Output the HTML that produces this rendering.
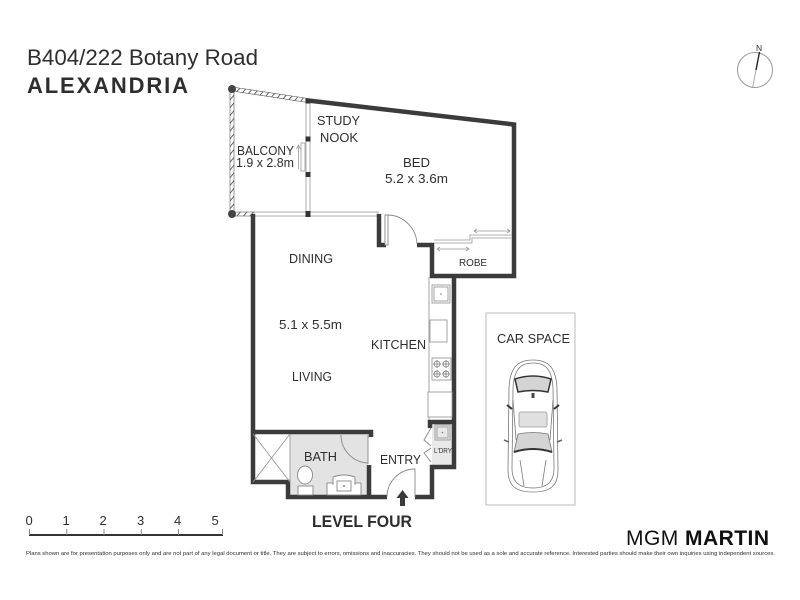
<!DOCTYPE html>
<html><head><meta charset="utf-8"><style>
html,body{margin:0;padding:0;background:#fff;}
svg{display:block;}
text{font-family:"Liberation Sans",Arial,sans-serif;fill:#2e2e2e;}
</style></head><body>
<svg width="800" height="600" viewBox="0 0 800 600" xmlns="http://www.w3.org/2000/svg">
<defs>
<pattern id="h" patternUnits="userSpaceOnUse" width="5" height="5" patternTransform="rotate(40)">
<rect width="5" height="5" fill="#fff"/>
<line x1="0" y1="0" x2="0" y2="5" stroke="#333" stroke-width="1.5"/>
</pattern>
</defs>

<!-- Title -->
<text x="27" y="65" font-size="22.5" textLength="231" lengthAdjust="spacingAndGlyphs">B404/222 Botany Road</text>
<text x="27" y="93" font-size="22" font-weight="bold" textLength="161" lengthAdjust="spacing">ALEXANDRIA</text>

<!-- Compass -->
<circle cx="755" cy="70" r="17.5" fill="none" stroke="#999" stroke-width="1"/>
<line x1="756" y1="70" x2="759.5" y2="52" stroke="#222" stroke-width="1.4"/>
<line x1="756" y1="70" x2="752.5" y2="88" stroke="#aaa" stroke-width="1"/>
<text x="756" y="51" font-size="8.5">N</text>

<!-- grey floors -->
<rect x="290" y="434" width="78" height="63" fill="#e3e3e3"/>
<rect x="432" y="424" width="21" height="43" fill="#e9e9e9"/>

<!-- balcony hatch -->
<polygon points="232,87 308,98.5 308,102.5 232,91" fill="url(#h)" stroke="#555" stroke-width="0.6"/>
<rect x="230" y="89" width="4" height="125" fill="url(#h)" stroke="#555" stroke-width="0.6"/>
<rect x="232" y="212" width="22" height="4" fill="url(#h)" stroke="#555" stroke-width="0.6"/>
<circle cx="232" cy="89" r="4" fill="#444"/>
<circle cx="232" cy="214" r="4" fill="#444"/>

<!-- glazing lines -->
<rect x="254" y="212" width="124" height="4" fill="#fff" stroke="#999" stroke-width="0.8"/>
<rect x="306" y="101" width="4" height="113" fill="#fff" stroke="#999" stroke-width="0.8"/>
<rect x="301" y="143" width="4" height="28" fill="#fff" stroke="#999" stroke-width="0.8"/>
<line x1="298.5" y1="169" x2="298.5" y2="146" stroke="#999" stroke-width="0.8"/>
<polyline points="296.5,149 298.5,145 300.5,149" fill="none" stroke="#999" stroke-width="0.8"/>
<rect x="305.5" y="98.5" width="5" height="5" fill="#333"/>
<rect x="305.5" y="136.5" width="5" height="5" fill="#333"/>
<rect x="305.5" y="172" width="5" height="5" fill="#333"/>
<rect x="305.5" y="211" width="5" height="6" fill="#333"/>

<!-- Walls -->
<g fill="none" stroke="#3b3b3b" stroke-width="4.5" stroke-linejoin="miter">
<polyline points="308,100.5 514,124.5 514,276 432,276 432,245 417,245"/>
<polyline points="379,214 379,245 386,245"/>
<polyline points="253,214 253,482 288,482 288,497 387,497"/>
<polyline points="415,497 432,497 432,467 454,467 454,276"/>
<polyline points="253,432 371,432 371,437"/>
<line x1="369" y1="465" x2="369" y2="497"/>
<polyline points="430,428 430,422 454,422"/>
</g>

<!-- Doors -->
<g fill="none" stroke="#888" stroke-width="0.9">
<rect x="385" y="215" width="3" height="30" fill="#fff"/>
<path d="M388,215 A30,30 0 0 1 417,244"/>
<path d="M341,435 A28,28 0 0 0 368,463"/>
<line x1="368" y1="435" x2="368" y2="464"/>
<path d="M387,497 A28,28 0 0 1 415,469"/>
<line x1="415" y1="469" x2="415" y2="497"/>
<polyline points="431,428 424,440 431,446"/>
<polyline points="431,448 424,453 431,462"/>
</g>

<!-- Robe -->
<g fill="none" stroke="#999" stroke-width="0.8">
<polyline points="434,240 470,240 470,235 512,235"/>
<polyline points="434,243 472,243 472,238 512,238"/>
<line x1="474" y1="231" x2="510" y2="231"/>
<polyline points="477,229 474,231 477,233"/>
<polyline points="507,229 510,231 507,233"/>
<line x1="437" y1="249" x2="469" y2="249"/>
<polyline points="440,247 437,249 440,251"/>
<polyline points="466,247 469,249 466,251"/>
</g>

<!-- Kitchen -->
<g fill="none" stroke="#999" stroke-width="0.9">
<line x1="429" y1="277" x2="429" y2="420"/>
<rect x="432" y="285" width="18" height="18"/>
<rect x="434" y="287" width="14" height="14"/>
<rect x="430" y="320" width="17" height="22" fill="#fff"/>
<rect x="432" y="358" width="19" height="22"/>
<rect x="428" y="392" width="24" height="25" fill="#fff"/>
<rect x="435" y="425" width="15" height="15"/>
<rect x="437" y="427" width="11" height="11"/>
<line x1="290" y1="434" x2="290" y2="482"/>
<line x1="253" y1="434" x2="290" y2="482"/>
<line x1="290" y1="434" x2="253" y2="482"/>
</g>
<g fill="none" stroke="#777" stroke-width="0.7">
<circle cx="437" cy="364" r="3"/><circle cx="446" cy="364" r="3"/>
<circle cx="437" cy="374" r="3"/><circle cx="446" cy="374" r="3"/>
<path d="M433,364h8M437,360v8M442,364h8M446,360v8M433,374h8M437,370v8M442,374h8M446,370v8"/>
</g>
<circle cx="441" cy="294" r="0.8" fill="#777"/>
<circle cx="442.5" cy="432.5" r="0.8" fill="#777"/>

<!-- Bath fixtures -->
<g fill="#fff" stroke="#888" stroke-width="0.9">
<ellipse cx="305" cy="475" rx="7.5" ry="9"/>
<rect x="298" y="486" width="15" height="9"/>
<rect x="327" y="483" width="34" height="12"/>
<path d="M333,485 L333,477 Q344,473 355,477 L355,485"/>
<rect x="337" y="481" width="14" height="10"/>
</g>
<circle cx="344" cy="486" r="0.9" fill="#666"/>

<!-- Entry arrow -->
<polygon points="402.5,490 396.5,498 400,498 400,506 405,506 405,498 408.5,498" fill="#3b3b3b"/>

<!-- Room labels -->
<g font-size="13">
<text x="317" y="125" textLength="43" lengthAdjust="spacingAndGlyphs">STUDY</text>
<text x="320" y="142" textLength="38" lengthAdjust="spacingAndGlyphs">NOOK</text>
<text x="237" y="155" font-size="12.5" textLength="57" lengthAdjust="spacingAndGlyphs">BALCONY</text>
<text x="236" y="167" font-size="12.5" textLength="58" lengthAdjust="spacingAndGlyphs">1.9 x 2.8m</text>
<text x="403" y="167" textLength="27" lengthAdjust="spacingAndGlyphs">BED</text>
<text x="385" y="183" textLength="63" lengthAdjust="spacingAndGlyphs">5.2 x 3.6m</text>
<text x="289" y="263" textLength="44" lengthAdjust="spacingAndGlyphs">DINING</text>
<text x="279" y="329" textLength="63" lengthAdjust="spacingAndGlyphs">5.1 x 5.5m</text>
<text x="371" y="349" textLength="55" lengthAdjust="spacingAndGlyphs">KITCHEN</text>
<text x="292" y="381" textLength="40" lengthAdjust="spacingAndGlyphs">LIVING</text>
<text x="304" y="461" textLength="33" lengthAdjust="spacingAndGlyphs">BATH</text>
<text x="380" y="464" textLength="41" lengthAdjust="spacingAndGlyphs">ENTRY</text>
<text x="459" y="266" font-size="10.5" textLength="28" lengthAdjust="spacingAndGlyphs">ROBE</text>
<text x="434" y="453" font-size="7" textLength="18" lengthAdjust="spacingAndGlyphs">L'DRY</text>
</g>

<!-- Car space -->
<rect x="486" y="313" width="89" height="192" fill="none" stroke="#bbb" stroke-width="1"/>
<text x="497" y="343" font-size="13" textLength="73" lengthAdjust="spacingAndGlyphs">CAR SPACE</text>
<g fill="none" stroke="#777" stroke-width="0.8">
<path d="M533,360 C549,360 556,368 557,388 L558,470 C558,486 550,492 533,492 C516,492 508,486 508,470 L509,388 C510,368 517,360 533,360 Z" fill="#fff"/>
<path d="M533,363 C546,363 552,370 553,388 L554,468 C554,482 547,488 533,488 C519,488 512,482 512,468 L513,388 C514,370 520,363 533,363 Z"/>
<path d="M513,400 L516,440 M553,400 L550,440"/>
<path d="M520,460 L524,486 M546,460 L542,486"/>
</g>
<path d="M515,379 Q533,373 551,379 L548,392 Q533,389 518,392 Z" fill="#d4d4d4" stroke="#333" stroke-width="1.5"/>
<rect x="519" y="412" width="28" height="15" rx="2" fill="#e0e0e0" stroke="#999" stroke-width="0.8"/>
<path d="M518,434 Q533,431 548,434 L552,452 Q533,446 514,452 Z" fill="#d4d4d4" stroke="#777" stroke-width="0.8"/>
<path d="M514,452 Q533,446 552,452" fill="none" stroke="#333" stroke-width="2"/>
<rect x="531.5" y="393" width="3" height="5" fill="#444"/>
<path d="M507,405 L512,409 M559,405 L554,409" stroke="#333" stroke-width="2"/>
<path d="M504,440 L509,442 M562,440 L557,442" stroke="#666" stroke-width="1.5"/>

<!-- Scale -->
<g font-size="13" fill="#444">
<text x="25.5" y="525">0</text><text x="62.5" y="525">1</text><text x="99.5" y="525">2</text>
<text x="137" y="525">3</text><text x="174" y="525">4</text><text x="211.5" y="525">5</text>
</g>
<g stroke="#333">
<line x1="29" y1="535" x2="223" y2="535" stroke-width="2"/>
<path d="M29.5,529V535M66.8,529V535M104,529V535M141.3,529V535M178.5,529V535M222.5,529V535" stroke="#888" stroke-width="1"/>
</g>

<text x="312" y="527" font-size="16.5" font-weight="bold" fill="#111" textLength="100" lengthAdjust="spacingAndGlyphs">LEVEL FOUR</text>

<!-- Logo -->
<text x="626" y="545" font-size="21" fill="#111" textLength="143" lengthAdjust="spacing" style="fill:#111">MGM <tspan font-weight="bold">MARTIN</tspan></text>

<!-- Disclaimer -->
<text x="26" y="555" font-size="5.2" fill="#444" textLength="749" lengthAdjust="spacingAndGlyphs">Plans shown are for presentation purposes only and are not part of any legal document or title. They are subject to errors, omissions and inaccuracies. They should not be used as a sole and accurate reference. Interested parties should make their own inquiries using independent sources.</text>
</svg>
</body></html>
